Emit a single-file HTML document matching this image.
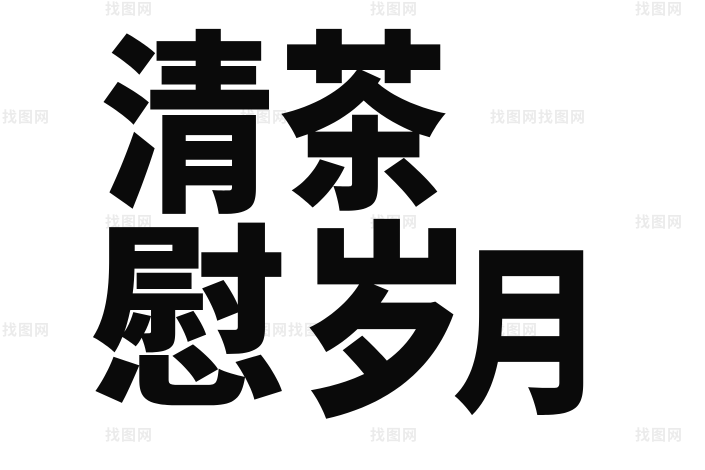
<!DOCTYPE html>
<html><head><meta charset="utf-8"><style>
html,body{margin:0;padding:0;background:#fff;}
#c{position:relative;width:705px;height:470px;overflow:hidden;background:#fff;}
.g{position:absolute;font-family:"Liberation Sans","Noto Sans CJK SC",sans-serif;font-weight:900;color:#0a0a0a;line-height:1;transform-origin:left top;}
.w{position:absolute;font-family:"Liberation Sans","Noto Sans CJK SC",sans-serif;font-weight:700;color:#ebebeb;font-size:15px;line-height:1;letter-spacing:1px;}
</style></head><body><div id="c">
<div class="w" style="left:105px;top:2px">找图网</div>
<div class="w" style="left:370px;top:2px">找图网</div>
<div class="w" style="left:635px;top:2px">找图网</div>
<div class="w" style="left:2px;top:110px">找图网</div>
<div class="w" style="left:240px;top:110px">找图网</div>
<div class="w" style="left:490px;top:110px">找图网找图网</div>
<div class="w" style="left:105px;top:215px">找图网</div>
<div class="w" style="left:370px;top:215px">找图网</div>
<div class="w" style="left:635px;top:215px">找图网</div>
<div class="w" style="left:2px;top:323px">找图网</div>
<div class="w" style="left:240px;top:323px">找图网找图网</div>
<div class="w" style="left:490px;top:323px">找图网</div>
<div class="w" style="left:105px;top:428px">找图网</div>
<div class="w" style="left:370px;top:428px">找图网</div>
<div class="w" style="left:635px;top:428px">找图网</div>
<div class="g" style="left:100px;top:32px;font-size:180px;transform:scale(0.97,1.08)">清</div>
<div class="g" style="left:278px;top:32px;font-size:180px;transform:scale(0.95,1.06)">茶</div>
<div class="g" style="left:90px;top:225px;font-size:190px;transform:scale(1.05,1.03)">慰</div>
<div class="g" style="left:298px;top:222px;font-size:200px;transform:scale(0.88,1.05)">岁</div>
<div class="g" style="left:452px;top:245px;font-size:175px;transform:scale(0.88,1.04)">月</div>
</div></body></html>
